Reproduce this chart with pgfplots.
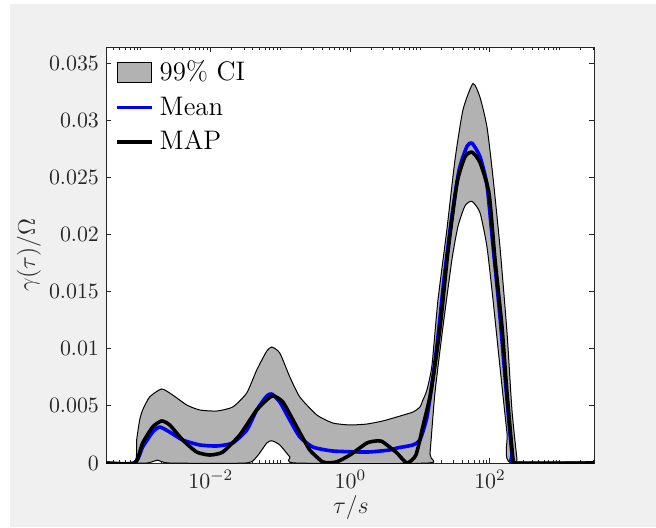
\documentclass[border=0pt]{standalone}
\usepackage{pgfplots}
\pgfplotsset{compat=1.18}
\usepackage{pgfplotstable}
\definecolor{bggray}{rgb}{0.94,0.94,0.94}
\definecolor{cigray}{rgb}{0.70,0.70,0.70}
\definecolor{axgray}{rgb}{0.15,0.15,0.15}

% 99% CI band: upper bound (left to right), then lower bound (right to left)
\pgfplotstableread{
L v
-3.505 0
-3.09 0
-3.061 0.00201
-3.018 0.00376
-2.975 0.00464
-2.875 0.00578
-2.703 0.00648
-2.545 0.00595
-2.344 0.00508
-2.158 0.00464
-1.914 0.00455
-1.685 0.00490
-1.484 0.00613
-1.341 0.00814
-1.197 0.00980
-1.125 0.01015
-1.011 0.00963
-0.867 0.00753
-0.724 0.00578
-0.480 0.00420
-0.251 0.00350
-0.007 0.00333
0.237 0.00341
0.466 0.00368
0.566 0.00385
0.667 0.00403
0.896 0.00446
0.996 0.00490
1.039 0.00550
1.097 0.00640
1.168 0.00850
1.254 0.01420
1.384 0.02050
1.498 0.02650
1.613 0.03090
1.756 0.03320
1.857 0.03200
1.957 0.02940
2.043 0.02500
2.143 0.01890
2.244 0.01140
2.315 0.00460
2.387 0.00030
2.401 0
3.491 0
2.301 0
2.244 0.0026
2.143 0.0084
2.043 0.0143
1.957 0.0189
1.857 0.0219
1.742 0.0229
1.642 0.0225
1.541 0.0207
1.455 0.0178
1.326 0.0119
1.211 0.0061
1.140 0.0008
1.111 0
-0.78 0
-0.867 0.00053
-1.011 0.00158
-1.125 0.00195
-1.197 0.00175
-1.341 0.00055
-1.50 0
-2.59 0
-2.76 0.00025
-2.92 0
-3.505 0
}\ciband

\pgfplotstableread{
L v
-3.505 0
-3.09 0
-2.975 0.0014
-2.832 0.00271
-2.731 0.00315
-2.588 0.00271
-2.401 0.00201
-2.158 0.00158
-1.914 0.00149
-1.685 0.00175
-1.484 0.00289
-1.341 0.00464
-1.197 0.00586
-1.125 0.00604
-1.011 0.00534
-0.867 0.00376
-0.724 0.00228
-0.538 0.0014
-0.251 0.00105
0.237 0.00096
0.566 0.00114
0.667 0.00131
0.896 0.00158
0.996 0.00201
1.097 0.0040
1.183 0.0075
1.254 0.0110
1.340 0.0160
1.441 0.0210
1.556 0.0256
1.670 0.0277
1.742 0.0280
1.857 0.0268
1.957 0.0243
2.043 0.0190
2.143 0.0128
2.244 0.0055
2.315 0.0008
2.358 0
3.491 0
}\meancurve

\pgfplotstableread{
L v
-3.505 0
-3.09 0
-2.975 0.00175
-2.832 0.00315
-2.703 0.00368
-2.588 0.00333
-2.401 0.00201
-2.201 0.00096
-2.014 0.0007
-1.828 0.00096
-1.584 0.00245
-1.341 0.00464
-1.125 0.00586
-0.968 0.00534
-0.767 0.00315
-0.581 0.00114
-0.400 0.0001
-0.337 0.00002
-0.194 0.0001
-0.007 0.0007
0.237 0.00175
0.370 0.00193
0.450 0.00190
0.523 0.00158
0.667 0.00088
0.810 0
0.939 0.0007
1.039 0.0032
1.140 0.0058
1.211 0.0085
1.297 0.0125
1.398 0.0185
1.527 0.0245
1.642 0.0268
1.742 0.0272
1.857 0.0263
1.986 0.0236
2.072 0.0178
2.172 0.0119
2.244 0.0061
2.330 0.0003
2.358 0
3.491 0
}\mapcurve

\begin{document}
\begin{tikzpicture}
\fill[bggray] (5pt,0) rectangle (328pt,261.5pt);
\begin{axis}[
  at={(53pt,32pt)}, anchor=south west,
  scale only axis, width=244pt, height=208pt,
  xmin=-3.5, xmax=3.49, ymin=0, ymax=0.0364,
  scaled y ticks=false,
  axis background/.style={fill=white},
  axis line style={axgray, line width=0.5pt},
  every tick/.style={axgray, line width=0.5pt},
  tick align=inside, xtick pos=both, ytick pos=both,
  major tick length=2.6pt, minor tick length=1.4pt,
  xtick={-2,0,2},
  xticklabels={$10^{-2}$,$10^{0}$,$10^{2}$},
  minor xtick={-3.39794,-3.30103,-3.22185,-3.15490,-3.09691,-3.04576,
    -3,-2.69897,-2.52288,-2.39794,-2.30103,-2.22185,-2.15490,-2.09691,-2.04576,
    -1.69897,-1.52288,-1.39794,-1.30103,-1.22185,-1.15490,-1.09691,-1.04576,
    -1,-0.69897,-0.52288,-0.39794,-0.30103,-0.22185,-0.15490,-0.09691,-0.04576,
    0.30103,0.47712,0.60206,0.69897,0.77815,0.84510,0.90309,0.95424,
    1,1.30103,1.47712,1.60206,1.69897,1.77815,1.84510,1.90309,1.95424,
    2.30103,2.47712,2.60206,2.69897,2.77815,2.84510,2.90309,2.95424,
    3,3.30103,3.47712},
  ytick={0,0.005,0.01,0.015,0.02,0.025,0.03,0.035},
  yticklabels={$0$,$0.005$,$0.01$,$0.015$,$0.02$,$0.025$,$0.03$,$0.035$},
  ticklabel style={font=\fontsize{11}{13}\selectfont, text=axgray},
  xlabel={$\tau/s$}, ylabel={$\gamma(\tau)/\Omega$},
  label style={font=\fontsize{13.2}{15}\selectfont, text=axgray},
  xlabel style={at={(axis description cs:0.502,-0.106)}, anchor=center},
  ylabel style={at={(axis description cs:-0.158,0.5)}, anchor=center},
  legend style={draw=none, fill=none, at={(axis description cs:0,1)}, anchor=north west,
    xshift=1.6pt, yshift=-1.5pt, font=\fontsize{13.4}{15}\selectfont,
    row sep=0pt, nodes={inner sep=3.2pt}},
  legend cell align=left,
]
\addplot[fill=cigray, draw=black, line width=0.5pt, smooth, tension=0.35,
  legend image code/.code={\draw[fill=cigray, draw=black, line width=0.5pt] (0pt,-5pt) rectangle (17pt,5pt);}]
  table[x=L, y=v] {\ciband} -- cycle;
\addlegendentry{99\% CI}
\addplot[blue, line width=1.8pt, line join=round, smooth, tension=0.35] table[x=L, y=v] {\meancurve};
\addlegendentry{Mean}
\addplot[black, line width=1.8pt, line join=round, smooth, tension=0.35] table[x=L, y=v] {\mapcurve};
\addlegendentry{MAP}
\end{axis}
\path (0,0) rectangle (328pt,263.5pt);
\end{tikzpicture}
\end{document}
